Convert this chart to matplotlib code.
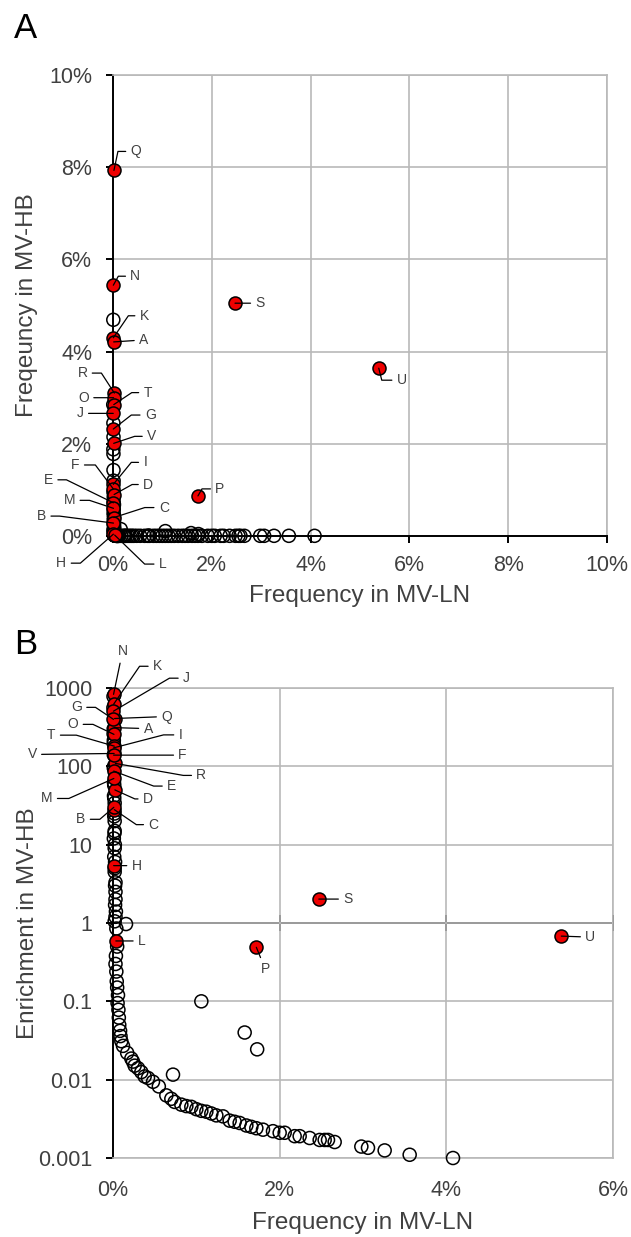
"""Clonotype frequencies in MV-LN vs MV-HB (panel A) and enrichment (panel B)."""

from __future__ import annotations

import matplotlib
import numpy as np

matplotlib.use("Agg")
from matplotlib import pyplot as plt
from matplotlib import ticker

plt.rcParams["font.family"] = ["Liberation Sans", "DejaVu Sans"]

# unlabelled clonotypes sitting near the MV-HB axis (MV-LN frequency ~0), in %
AXIS_LN = [0.006, 0.005, 0.008, 0.010, 0.007, 0.009, 0.010, 0.012, 0.010, 0.015,
           0.012, 0.020, 0.015, 0.012, 0.018, 0.020, 0.015, 0.020, 0.018, 0.010,
           0.022, 0.020, 0.015, 0.025, 0.020, 0.020, 0.030, 0.025, 0.030, 0.030,
           0.025, 0.035, 0.030, 0.020, 0.040, 0.050, 0.035, 0.030, 0.040, 0.045,
           0.050, 0.060, 0.055, 0.065, 0.070, 0.075, 0.085, 0.090, 0.100, 0.156,
           0.120, 0.170]
AXIS_HB = [4.69, 2.85, 2.45, 2.15, 1.88, 1.78, 1.43, 1.20, 0.95, 0.85,
           0.75, 0.68, 0.58, 0.50, 0.45, 0.40, 0.35, 0.30, 0.26, 0.13,
           0.22, 0.18, 0.09, 0.15, 0.12, 0.07, 0.10, 0.08, 0.05, 0.06,
           0.04, 0.05, 0.04, 0.02, 0.035, 0.025, 0.012, 0.010, 0.010, 0.008,
           0.007, 0.007, 0.005, 0.005, 0.004, 0.004, 0.003, 0.003, 0.003, 0.15,
           0.003, 0.0035]
AXIS_ENRICH = [780, 560, 300, 215, 260, 195, 140, 100, 95, 57,
               62, 34, 39, 42, 25, 20, 23, 15, 14, 12,
               10, 9, 7, 6, 5, 4.5, 3.3, 3.0, 2.5, 2.0,
               1.7, 1.4, 1.2, 1.05, 0.85, 0.50, 0.38, 0.30, 0.24, 0.18,
               0.15, 0.12, 0.095, 0.078, 0.062, 0.050, 0.042, 0.036, 0.031, 0.97,
               0.027, 0.022]

# unlabelled clonotypes spread along the MV-LN axis, in %
CURVE_LN = [0.22, 0.24, 0.26, 0.30, 0.34, 0.38, 0.42, 0.48, 0.55, 0.64,
            0.70, 0.74, 0.72, 0.82, 0.88, 0.94, 1.00, 1.06, 1.06, 1.12,
            1.18, 1.24, 1.32, 1.40, 1.46, 1.52, 1.58, 1.60, 1.66, 1.72,
            1.73, 1.80, 1.92, 2.00, 2.06, 2.18, 2.24, 2.36, 2.48, 2.54,
            2.58, 2.66, 2.98, 3.06, 3.26, 3.56, 4.08]
CURVE_HB = [0.004, 0.004, 0.004, 0.004, 0.004, 0.004, 0.004, 0.0045, 0.0045, 0.004,
            0.004, 0.004, 0.008, 0.004, 0.004, 0.004, 0.004, 0.004, 0.106, 0.004,
            0.004, 0.004, 0.004, 0.0042, 0.0042, 0.0042, 0.063, 0.0042, 0.0042, 0.0042,
            0.042, 0.004, 0.004, 0.004, 0.004, 0.004, 0.004, 0.004, 0.004, 0.004,
            0.004, 0.004, 0.004, 0.004, 0.004, 0.004, 0.004]
CURVE_ENRICH = [0.0186, 0.017, 0.0151, 0.014, 0.0125, 0.011, 0.0105, 0.0094, 0.0082, 0.0063,
                0.0057, 0.0052, 0.0116, 0.0048, 0.0046, 0.0045, 0.0042, 0.0040, 0.10, 0.0039,
                0.0037, 0.0035, 0.0034, 0.0030, 0.0029, 0.0028, 0.040, 0.0026, 0.0025, 0.0024,
                0.0244, 0.0023, 0.0022, 0.0021, 0.0021, 0.0019, 0.0019, 0.0018, 0.0017, 0.0017,
                0.0017, 0.0016, 0.0014, 0.00135, 0.00125, 0.0011, 0.0010]

# labelled clonotypes (red)
RED_NAMES = ["Q", "N", "S", "K", "A", "R", "O", "T", "J", "G", "V",
             "I", "F", "D", "E", "M", "C", "B", "H", "L", "P", "U"]
RED_LN = [0.019, 0.0066, 2.47, 0.007, 0.0135, 0.028, 0.0117, 0.0157, 0.0053, 0.0058, 0.0138,
          0.0065, 0.0073, 0.0225, 0.0083, 0.010, 0.016, 0.010, 0.0074, 0.034, 1.72, 5.38]
RED_HB = [7.93, 5.44, 5.05, 4.30, 4.21, 3.10, 3.00, 2.85, 2.66, 2.32, 2.01,
          1.12, 1.02, 0.90, 0.72, 0.60, 0.40, 0.28, 0.04, 0.02, 0.87, 3.64]
RED_ENRICH = [408, 830, 2.02, 620, 312, 109, 256, 181, 506, 398, 146,
              172, 139, 50, 87, 70, 28, 30, 5.4, 0.59, 0.49, 0.68]

# label placement: text offset from the point (pixels) and x of the leader elbow
LABELS_A = {
    "Q": (22, 19, 4), "N": (22, 9, 5), "S": (25, 0, None), "K": (31, 22, 15),
    "A": (30, 2, None), "R": (-32, 20, -13), "O": (-30, 0, None), "T": (34, 12, 18),
    "J": (-33, 0, None), "G": (37, 14, 18), "V": (38, 7, 21), "I": (32, 22, 18),
    "F": (-38, 24, -18), "D": (34, 10, 18), "E": (-65, 23, -47), "M": (-44, 8, -24),
    "C": (50, 10, 31), "B": (-72, 7, -54), "H": (-52, -29, -33), "L": (48, -29, 30),
    "P": (22, 7, 4), "U": (23, -12, 3),
}
LABELS_B = {
    "N": (9, 43, None), "K": (44, 38, 26), "J": (73, 33, 56), "Q": (52, 2, None),
    "A": (34, -1, None), "I": (67, 13, 50), "F": (69, 0, None), "R": (86, -12, 68),
    "E": (58, -15, 40), "D": (33, -9, 20), "C": (39, -15, 22), "H": (23, 0, None),
    "G": (-37, 12, -18), "O": (-41, 10, -21), "T": (-63, 11, -38), "V": (-82, -1, None),
    "M": (-67, -20, -45), "B": (-33, -12, -14), "L": (26, 0, None), "P": (9, -22, None),
    "S": (29, 0, None), "U": (29, -1, None),
}

GRID = "#b9b9b9"
TEXT = "#404040"
RED = "#ee0000"


def _points(axis, x_axis, y_axis, x_curve, y_curve, x_red, y_red) -> None:
    style = dict(s=88, facecolors="none", edgecolors="black", linewidths=1.1, clip_on=False)
    axis.scatter(x_axis, y_axis, zorder=3, **style)
    axis.scatter(x_curve, y_curve, zorder=3, **style)
    axis.scatter(x_red, y_red, s=88, c=RED, edgecolors="black", linewidths=1.1,
                 clip_on=False, zorder=4)


def _labels(axis, xs, ys, placement) -> None:
    for name, x, y in zip(RED_NAMES, xs, ys):
        dx, dy, kx = placement[name]
        if kx is None:
            connection = "arc3"
        else:
            angle_b = np.degrees(np.arctan2(dy, kx))
            connection = f"angle,angleA=0,angleB={angle_b:.2f},rad=0"
        axis.annotate(
            name, xy=(x, y), xytext=(dx, dy), textcoords="offset pixels",
            ha="center", va="center", fontsize=10, color=TEXT, zorder=5,
            annotation_clip=False,
            arrowprops=dict(arrowstyle="-", color="black", lw=0.9, shrinkA=1.5,
                            shrinkB=0, connectionstyle=connection),
        )


def _frame(axis) -> None:
    axis.grid(True, color=GRID, linewidth=1.2)
    axis.set_axisbelow(True)
    for side in ("top", "right"):
        axis.spines[side].set_color(GRID)
        axis.spines[side].set_linewidth(1.2)
    axis.spines["left"].set_color("black")
    axis.spines["left"].set_linewidth(1.4)
    axis.spines["left"].set_zorder(2.5)
    axis.tick_params(axis="y", direction="out", length=5, width=1.4, color="black",
                     pad=10, labelsize=15.5, labelcolor=TEXT)


figure = plt.figure(figsize=(6.31, 12.37), dpi=100)

# panel A
ax_a = figure.add_axes([0.17908, 0.56669, 0.78288, 0.37268])
_points(ax_a, AXIS_LN, AXIS_HB, CURVE_LN, CURVE_HB, RED_LN, RED_HB)
_labels(ax_a, RED_LN, RED_HB, LABELS_A)
ax_a.set_xlim(0, 10)
ax_a.set_ylim(0, 10)
ax_a.set_xticks(np.arange(0, 11, 2))
ax_a.set_yticks(np.arange(0, 11, 2))
percent = ticker.FuncFormatter(lambda v, _: f"{v:.0f}%")
ax_a.xaxis.set_major_formatter(percent)
ax_a.yaxis.set_major_formatter(percent)
_frame(ax_a)
ax_a.spines["bottom"].set_color("black")
ax_a.spines["bottom"].set_linewidth(1.4)
ax_a.spines["bottom"].set_zorder(2.5)
ax_a.tick_params(axis="x", direction="out", length=5, width=1.4, color="black",
                 pad=9, labelsize=15.5, labelcolor=TEXT)
ax_a.set_xlabel("Frequency in MV-LN", fontsize=17.5, color=TEXT, va="center")
ax_a.xaxis.set_label_coords(0.5, -0.13)
ax_a.set_ylabel("Freqeuncy in MV-HB", fontsize=17.5, color=TEXT, va="center")
ax_a.yaxis.set_label_coords(-0.174, 0.5)

# panel B
ax_b = figure.add_axes([0.17908, 0.06386, 0.79239, 0.37995])
_points(ax_b, AXIS_LN, AXIS_ENRICH, CURVE_LN, CURVE_ENRICH, RED_LN, RED_ENRICH)
_labels(ax_b, RED_LN, RED_ENRICH, LABELS_B)
ax_b.set_yscale("log")
ax_b.set_xlim(0, 6)
ax_b.set_ylim(0.001, 1000)
ax_b.set_xticks(np.arange(0, 7, 2))
ax_b.set_yticks([0.001, 0.01, 0.1, 1, 10, 100, 1000])
ax_b.yaxis.set_minor_locator(ticker.NullLocator())
ax_b.xaxis.set_major_formatter(percent)
ax_b.yaxis.set_major_formatter(ticker.FuncFormatter(lambda v, _: f"{v:g}"))
_frame(ax_b)
ax_b.spines["bottom"].set_color(GRID)
ax_b.spines["bottom"].set_linewidth(1.2)
ax_b.tick_params(axis="x", length=0, pad=16, labelsize=15.5, labelcolor=TEXT)

# black crossing axis at an enrichment of 1
low, high = np.log10(ax_b.get_ylim())
unity = ax_b.secondary_xaxis((0.0 - low) / (high - low))
unity.set_xticks(np.arange(0, 7, 2))
unity.tick_params(direction="inout", length=11, width=1.4, color="black",
                  labeltop=False, labelbottom=False)
for spine in unity.spines.values():
    spine.set_color("black")
    spine.set_linewidth(1.4)

ax_b.set_xlabel("Frequency in MV-LN", fontsize=17.5, color=TEXT, va="center")
ax_b.xaxis.set_label_coords(0.5, -0.138)
ax_b.set_ylabel("Enrichment in MV-HB", fontsize=17.5, color=TEXT, va="center")
ax_b.yaxis.set_label_coords(-0.17, 0.5)

figure.text(26 / 631, 1 - 29 / 1237, "A", fontsize=25, ha="center", va="center")
figure.text(26 / 631, 1 - 644 / 1237, "B", fontsize=25, ha="center", va="center")

figure.savefig("out.png", dpi=100)
plt.close(figure)
